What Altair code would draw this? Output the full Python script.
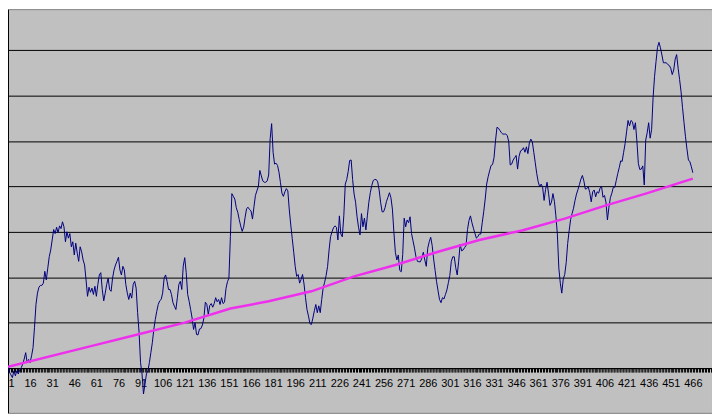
import altair as alt
import pandas as pd

# Series values (one value per category 1..466)
values = [
    0.5, -0.9, -1.5, -2.1, -0.6, -1.7, -0.6, -1.3, -0.4, 0.1,
    0.9, 2.0, 3.4, 1.2, 1.9, 1.2, 2.7, 4.5, 9.0, 14.0,
    16.5, 17.8, 18.2, 18.2, 18.7, 21.3, 19.4, 22.0, 24.5, 26.0,
    28.2, 30.5, 29.6, 31.0, 29.8, 31.3, 30.7, 32.2, 31.1, 27.8,
    30.0, 28.6, 29.6, 26.7, 27.8, 24.9, 27.5, 25.3, 23.5, 26.7,
    25.6, 23.8, 22.7, 19.4, 15.8, 17.8, 16.7, 17.6, 16.2, 18.0,
    15.8, 18.4, 20.5, 21.0, 17.3, 14.8, 16.5, 18.4, 19.8, 17.3,
    16.9, 19.8, 21.6, 22.7, 23.5, 24.4, 21.6, 20.5, 22.4, 21.6,
    18.4, 16.5, 15.1, 16.5, 15.4, 18.4, 19.1, 17.6, 12.2, 7.8,
    1.2, -1.3, -5.7, -3.5, -1.3, -0.6, 1.2, 3.4, 5.6, 8.5,
    10.7, 12.5, 14.0, 14.8, 15.1, 16.5, 19.8, 20.5, 19.1, 17.3,
    17.3, 16.2, 14.4, 13.6, 12.9, 15.5, 18.4, 19.1, 17.3, 22.5,
    24.3, 21.0, 16.2, 14.7, 12.9, 11.0, 8.5, 10.0, 7.4, 7.3,
    8.6, 8.7, 9.5, 11.0, 14.5, 14.0, 11.8, 13.8, 14.2, 13.4,
    14.2, 15.5, 14.6, 15.1, 14.0, 15.5, 14.2, 14.5, 17.5, 19.0,
    19.8, 29.0, 38.4, 37.8, 37.2, 35.3, 34.3, 32.7, 31.3, 30.1,
    31.0, 33.2, 35.1, 35.4, 34.9, 34.6, 32.8, 35.5, 38.0, 39.0,
    40.0, 43.5, 42.3, 41.2, 40.9, 40.9, 41.2, 42.5, 50.5, 53.8,
    47.5, 44.9, 45.1, 44.6, 43.1, 40.8, 38.5, 37.8, 38.8, 39.5,
    39.0, 34.8, 31.5, 28.5, 25.5, 22.4, 20.2, 20.6, 18.7, 19.5,
    20.6, 18.5, 15.5, 12.9, 11.5, 9.8, 9.6, 11.0, 12.6, 14.0,
    12.2, 13.7, 12.2, 15.1, 17.7, 18.9, 20.4, 22.4, 26.0, 28.9,
    30.0, 30.9, 31.3, 31.0, 28.2, 33.5, 29.5, 28.9, 33.5, 40.5,
    41.5, 43.3, 45.7, 45.8, 41.5, 38.3, 36.5, 33.3, 31.0, 29.3,
    34.0, 31.1, 33.0, 30.4, 33.5, 36.5, 38.6, 40.2, 41.3, 41.5,
    41.5, 41.0, 39.2, 36.5, 34.4, 34.4, 35.3, 36.7, 37.6, 38.6,
    37.5, 35.0, 30.0, 25.5, 23.8, 24.9, 21.5, 21.2, 25.0, 33.0,
    31.1, 32.6, 32.0, 33.3, 29.6, 28.0, 26.4, 24.5, 23.5, 23.4,
    23.4, 24.2, 25.5, 23.8, 22.4, 26.4, 27.8, 28.8, 27.0, 24.0,
    21.5, 19.0, 17.0, 15.1, 14.4, 15.5, 15.2, 16.2, 17.2, 18.8,
    20.4, 23.5, 24.5, 24.5, 22.1, 20.5, 23.5, 27.3, 25.8, 26.0,
    26.5, 27.0, 30.5, 32.5, 33.5, 32.0, 30.8, 29.7, 28.6, 28.9,
    29.5, 29.5, 32.0, 34.4, 37.2, 40.5, 42.1, 43.4, 44.6, 44.8,
    46.3, 50.0, 53.0, 52.8, 52.3, 51.8, 51.5, 51.5, 51.5, 51.2,
    49.8, 44.7, 44.9, 45.8, 46.3, 46.8, 43.8, 46.6, 47.8, 48.0,
    48.5, 47.5, 48.7, 47.2, 49.6, 50.4, 49.8, 47.5, 45.2, 42.8,
    41.0, 39.9, 40.5, 39.8, 36.9, 39.3, 40.9, 38.5, 35.8, 36.5,
    38.4, 36.7, 33.5, 29.5, 22.0, 18.7, 16.5, 19.6, 20.6, 23.2,
    27.4, 30.2, 32.7, 34.0, 35.2, 36.9, 38.3, 39.3, 40.4, 41.6,
    42.4, 41.2, 39.4, 39.5, 39.9, 38.6, 36.6, 38.8, 39.2, 37.7,
    38.8, 38.5, 39.6, 40.0, 37.6, 38.0, 36.5, 32.6, 35.4, 37.5,
    38.5, 39.8, 39.8, 41.3, 42.8, 44.1, 45.6, 45.5, 47.5, 49.4,
    52.0, 54.5, 53.3, 54.5, 54.2, 52.5, 54.0, 50.0, 45.0, 43.7,
    43.8, 44.5, 40.3, 50.2, 51.8, 54.0, 50.6, 52.5, 59.5, 64.2,
    67.5, 70.6, 71.7, 70.5, 68.9, 67.2, 67.2, 67.2, 66.8, 66.6,
    66.0, 64.6, 65.6, 68.0, 69.0, 66.0, 63.5, 60.8, 57.3, 54.0,
    50.9, 48.2, 45.8, 45.4, 44.3, 43.0,
]

# Trend line values read at a few categories
trend_cat = [1, 58, 89, 121, 152, 178, 207, 236, 264, 293, 321, 350, 379, 407, 434, 466]
trend_val = [0.3, 4.9, 7.4, 10.0, 13.1, 14.7, 16.9, 20.2, 22.7, 25.6, 28.2, 30.3, 32.9, 35.8, 38.4, 41.7]

# Axis tick labels / ticks / gridlines
tick_labels = list(range(1, 467, 15))
tick_marks = list(range(1, 480))
grid_values = [0, 10, 20, 30, 40, 50, 60, 70]

df = pd.DataFrame({"cat": list(range(1, len(values) + 1)), "value": values})
tr = pd.DataFrame({"cat": trend_cat, "value": trend_val})

xscale = alt.Scale(domain=[1, 479], nice=False, zero=False)
yscale = alt.Scale(domain=[-9.85, 79.0], nice=False, zero=False)

label_expr = "indexof(" + str(tick_labels) + ", datum.value) >= 0 ? datum.label : ''"

xaxis = alt.Axis(
    values=tick_marks,
    tickCount=1000,
    labelExpr=label_expr,
    labelOverlap=False,
    labelFlush=True,
    grid=False,
    domainColor="black",
    domainWidth=1,
    tickColor="black",
    tickSize=4,
    tickWidth=1,
    labelColor="black",
    labelFont="Liberation Sans",
    labelFontSize=11,
    labelPadding=6,
    offset=-45,
    title=None,
    format="d",
)

yaxis = alt.Axis(
    values=grid_values,
    tickCount=20,
    grid=True,
    gridColor="black",
    gridWidth=1,
    gridOpacity=1,
    labels=False,
    ticks=False,
    domain=True,
    domainColor="black",
    domainWidth=1,
    title=None,
)

line = alt.Chart(df).mark_line(color="#000080", strokeWidth=1).encode(
    x=alt.X("cat:Q", scale=xscale, axis=xaxis),
    y=alt.Y("value:Q", scale=yscale, axis=yaxis),
)

trend = alt.Chart(tr).mark_line(color="#EE30EE", strokeWidth=2.5).encode(
    x=alt.X("cat:Q", scale=xscale),
    y=alt.Y("value:Q", scale=yscale),
)

chart = alt.layer(line, trend).properties(
    width=708,
    height=406,
    autosize=alt.AutoSizeParams(type="none"),
    padding=0,
    background="white",
).configure_view(fill="#C0C0C0", stroke="#808080", strokeWidth=1)

chart.save("out.html", embed_options={"renderer": "svg", "actions": False})
